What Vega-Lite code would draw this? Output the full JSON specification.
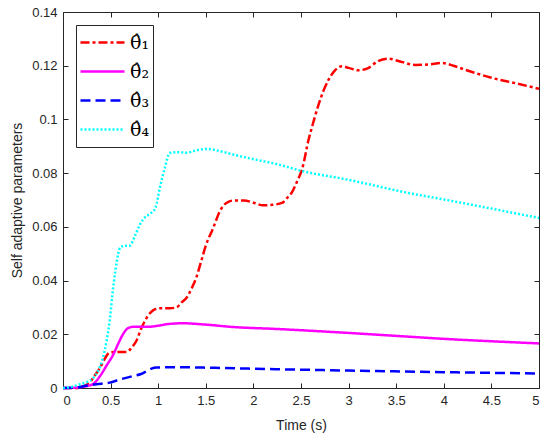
{
  "$schema": "https://vega.github.io/schema/vega-lite/v6.json",
  "width": 476,
  "height": 376,
  "autosize": {"type": "none"},
  "padding": {"left": 63, "top": 12, "right": 11, "bottom": 54},
  "background": "white",
  "datasets": {
    "curves": [
      {"t": 0, "v": 0, "s": "θ̂₁"}, {"t": 0.15, "v": 0, "s": "θ̂₁"}, {"t": 0.22, "v": 0.0008, "s": "θ̂₁"},
      {"t": 0.28, "v": 0.002, "s": "θ̂₁"}, {"t": 0.33, "v": 0.0045, "s": "θ̂₁"}, {"t": 0.39, "v": 0.0076, "s": "θ̂₁"},
      {"t": 0.44, "v": 0.011, "s": "θ̂₁"}, {"t": 0.49, "v": 0.0132, "s": "θ̂₁"}, {"t": 0.58, "v": 0.0134, "s": "θ̂₁"},
      {"t": 0.67, "v": 0.0134, "s": "θ̂₁"}, {"t": 0.72, "v": 0.015, "s": "θ̂₁"}, {"t": 0.77, "v": 0.0175, "s": "θ̂₁"},
      {"t": 0.82, "v": 0.022, "s": "θ̂₁"}, {"t": 0.88, "v": 0.0262, "s": "θ̂₁"}, {"t": 0.95, "v": 0.029, "s": "θ̂₁"},
      {"t": 1.02, "v": 0.0297, "s": "θ̂₁"}, {"t": 1.12, "v": 0.0297, "s": "θ̂₁"}, {"t": 1.19, "v": 0.03, "s": "θ̂₁"},
      {"t": 1.25, "v": 0.032, "s": "θ̂₁"}, {"t": 1.3, "v": 0.0337, "s": "θ̂₁"}, {"t": 1.35, "v": 0.037, "s": "θ̂₁"},
      {"t": 1.4, "v": 0.0411, "s": "θ̂₁"}, {"t": 1.45, "v": 0.047, "s": "θ̂₁"}, {"t": 1.5, "v": 0.053, "s": "θ̂₁"},
      {"t": 1.58, "v": 0.0598, "s": "θ̂₁"}, {"t": 1.65, "v": 0.066, "s": "θ̂₁"}, {"t": 1.72, "v": 0.069, "s": "θ̂₁"},
      {"t": 1.79, "v": 0.0698, "s": "θ̂₁"}, {"t": 1.9, "v": 0.0698, "s": "θ̂₁"}, {"t": 2.0, "v": 0.069, "s": "θ̂₁"},
      {"t": 2.1, "v": 0.068, "s": "θ̂₁"}, {"t": 2.2, "v": 0.0682, "s": "θ̂₁"}, {"t": 2.3, "v": 0.0689, "s": "θ̂₁"},
      {"t": 2.36, "v": 0.071, "s": "θ̂₁"}, {"t": 2.4, "v": 0.0726, "s": "θ̂₁"}, {"t": 2.46, "v": 0.077, "s": "θ̂₁"},
      {"t": 2.51, "v": 0.0813, "s": "θ̂₁"}, {"t": 2.58, "v": 0.0925, "s": "θ̂₁"}, {"t": 2.63, "v": 0.099, "s": "θ̂₁"},
      {"t": 2.68, "v": 0.105, "s": "θ̂₁"}, {"t": 2.74, "v": 0.111, "s": "θ̂₁"}, {"t": 2.79, "v": 0.1148, "s": "θ̂₁"},
      {"t": 2.85, "v": 0.118, "s": "θ̂₁"}, {"t": 2.93, "v": 0.1198, "s": "θ̂₁"}, {"t": 3.0, "v": 0.1192, "s": "θ̂₁"},
      {"t": 3.1, "v": 0.1183, "s": "θ̂₁"}, {"t": 3.2, "v": 0.119, "s": "θ̂₁"}, {"t": 3.3, "v": 0.1215, "s": "θ̂₁"},
      {"t": 3.42, "v": 0.1226, "s": "θ̂₁"}, {"t": 3.55, "v": 0.1215, "s": "θ̂₁"}, {"t": 3.7, "v": 0.1203, "s": "θ̂₁"},
      {"t": 3.85, "v": 0.1205, "s": "θ̂₁"}, {"t": 3.98, "v": 0.121, "s": "θ̂₁"}, {"t": 4.1, "v": 0.12, "s": "θ̂₁"},
      {"t": 4.2, "v": 0.1188, "s": "θ̂₁"}, {"t": 4.33, "v": 0.1173, "s": "θ̂₁"}, {"t": 4.5, "v": 0.1155, "s": "θ̂₁"},
      {"t": 4.75, "v": 0.1135, "s": "θ̂₁"}, {"t": 5.0, "v": 0.1114, "s": "θ̂₁"},

      {"t": 0, "v": 0, "s": "θ̂₂"}, {"t": 0.14, "v": 0.0002, "s": "θ̂₂"}, {"t": 0.25, "v": 0.0007, "s": "θ̂₂"},
      {"t": 0.32, "v": 0.0016, "s": "θ̂₂"}, {"t": 0.39, "v": 0.0045, "s": "θ̂₂"}, {"t": 0.46, "v": 0.0085, "s": "θ̂₂"},
      {"t": 0.53, "v": 0.0126, "s": "θ̂₂"}, {"t": 0.58, "v": 0.0165, "s": "θ̂₂"}, {"t": 0.63, "v": 0.02, "s": "θ̂₂"},
      {"t": 0.68, "v": 0.0222, "s": "θ̂₂"}, {"t": 0.74, "v": 0.0228, "s": "θ̂₂"}, {"t": 0.82, "v": 0.0228, "s": "θ̂₂"},
      {"t": 0.9, "v": 0.0228, "s": "θ̂₂"}, {"t": 1.0, "v": 0.0232, "s": "θ̂₂"}, {"t": 1.1, "v": 0.0238, "s": "θ̂₂"},
      {"t": 1.26, "v": 0.0241, "s": "θ̂₂"}, {"t": 1.5, "v": 0.0236, "s": "θ̂₂"}, {"t": 1.79, "v": 0.0227, "s": "θ̂₂"},
      {"t": 2.23, "v": 0.022, "s": "θ̂₂"}, {"t": 3.0, "v": 0.0205, "s": "θ̂₂"}, {"t": 3.5, "v": 0.0194, "s": "θ̂₂"},
      {"t": 4.0, "v": 0.0183, "s": "θ̂₂"}, {"t": 4.5, "v": 0.0174, "s": "θ̂₂"}, {"t": 5.0, "v": 0.0166, "s": "θ̂₂"},

      {"t": 0, "v": 0, "s": "θ̂₃"}, {"t": 0.15, "v": 0.0002, "s": "θ̂₃"}, {"t": 0.24, "v": 0.0008, "s": "θ̂₃"},
      {"t": 0.35, "v": 0.0014, "s": "θ̂₃"}, {"t": 0.49, "v": 0.002, "s": "θ̂₃"}, {"t": 0.6, "v": 0.0032, "s": "θ̂₃"},
      {"t": 0.74, "v": 0.0045, "s": "θ̂₃"}, {"t": 0.82, "v": 0.0052, "s": "θ̂₃"}, {"t": 0.88, "v": 0.0063, "s": "θ̂₃"},
      {"t": 0.93, "v": 0.0072, "s": "θ̂₃"}, {"t": 0.98, "v": 0.0076, "s": "θ̂₃"}, {"t": 1.1, "v": 0.0077, "s": "θ̂₃"},
      {"t": 1.26, "v": 0.0077, "s": "θ̂₃"}, {"t": 1.6, "v": 0.0075, "s": "θ̂₃"}, {"t": 2.23, "v": 0.007, "s": "θ̂₃"},
      {"t": 3.0, "v": 0.0065, "s": "θ̂₃"}, {"t": 4.0, "v": 0.0059, "s": "θ̂₃"}, {"t": 5.0, "v": 0.0054, "s": "θ̂₃"},

      {"t": 0, "v": 0, "s": "θ̂₄"}, {"t": 0.1, "v": 0.0005, "s": "θ̂₄"}, {"t": 0.18, "v": 0.0014, "s": "θ̂₄"},
      {"t": 0.25, "v": 0.0022, "s": "θ̂₄"}, {"t": 0.32, "v": 0.0038, "s": "θ̂₄"}, {"t": 0.37, "v": 0.0065, "s": "θ̂₄"},
      {"t": 0.42, "v": 0.0113, "s": "θ̂₄"}, {"t": 0.46, "v": 0.018, "s": "θ̂₄"}, {"t": 0.49, "v": 0.025, "s": "θ̂₄"},
      {"t": 0.52, "v": 0.035, "s": "θ̂₄"}, {"t": 0.55, "v": 0.0436, "s": "θ̂₄"}, {"t": 0.58, "v": 0.05, "s": "θ̂₄"},
      {"t": 0.6, "v": 0.0523, "s": "θ̂₄"}, {"t": 0.65, "v": 0.053, "s": "θ̂₄"}, {"t": 0.7, "v": 0.053, "s": "θ̂₄"},
      {"t": 0.76, "v": 0.057, "s": "θ̂₄"}, {"t": 0.81, "v": 0.061, "s": "θ̂₄"}, {"t": 0.86, "v": 0.0635, "s": "θ̂₄"},
      {"t": 0.92, "v": 0.065, "s": "θ̂₄"}, {"t": 0.97, "v": 0.067, "s": "θ̂₄"}, {"t": 1.02, "v": 0.075, "s": "θ̂₄"},
      {"t": 1.07, "v": 0.082, "s": "θ̂₄"}, {"t": 1.12, "v": 0.0875, "s": "θ̂₄"}, {"t": 1.2, "v": 0.0878, "s": "θ̂₄"},
      {"t": 1.3, "v": 0.0876, "s": "θ̂₄"}, {"t": 1.4, "v": 0.0885, "s": "θ̂₄"}, {"t": 1.51, "v": 0.089, "s": "θ̂₄"},
      {"t": 1.65, "v": 0.0882, "s": "θ̂₄"}, {"t": 1.79, "v": 0.0869, "s": "θ̂₄"}, {"t": 2.0, "v": 0.0852, "s": "θ̂₄"},
      {"t": 2.23, "v": 0.0835, "s": "θ̂₄"}, {"t": 2.51, "v": 0.0808, "s": "θ̂₄"}, {"t": 3.0, "v": 0.0775, "s": "θ̂₄"},
      {"t": 3.63, "v": 0.0726, "s": "θ̂₄"}, {"t": 4.0, "v": 0.0702, "s": "θ̂₄"}, {"t": 4.5, "v": 0.0668, "s": "θ̂₄"},
      {"t": 5.0, "v": 0.0633, "s": "θ̂₄"}
    ]
  },
  "data": {"name": "curves"},
  "layer": [
    {
      "mark": {"type": "line", "interpolate": "monotone", "strokeWidth": 2.5},
      "encoding": {
        "x": {
          "field": "t", "type": "quantitative",
          "scale": {"domain": [0, 5], "nice": false},
          "axis": {
            "title": "Time (s)", "values": [0, 0.5, 1, 1.5, 2, 2.5, 3, 3.5, 4, 4.5, 5],
            "format": ".1~f", "titlePadding": 11
          }
        },
        "y": {
          "field": "v", "type": "quantitative",
          "scale": {"domain": [0, 0.14], "nice": false},
          "axis": {
            "title": "Self adaptive parameters",
            "values": [0, 0.02, 0.04, 0.06, 0.08, 0.1, 0.12, 0.14],
            "format": ".2~f", "titlePadding": 7
          }
        },
        "color": {
          "field": "s", "type": "nominal",
          "scale": {"domain": ["θ̂₁", "θ̂₂", "θ̂₃", "θ̂₄"], "range": ["#ff0000", "#ff00ff", "#0000ff", "#00ffff"]},
          "legend": {
            "title": null, "orient": "none", "legendX": 13, "legendY": 13,
            "symbolType": "stroke", "symbolSize": 1936, "symbolStrokeWidth": 2.5,
            "clipHeight": 29, "labelFont": "DejaVu Serif",
            "labelFontSize": 19, "labelColor": "#000000", "labelOffset": 4,
            "fillColor": "white", "strokeColor": "#262626", "padding": 3, "rowPadding": 0
          }
        },
        "strokeDash": {
          "field": "s", "type": "nominal",
          "scale": {"domain": ["θ̂₁", "θ̂₂", "θ̂₃", "θ̂₄"], "range": [[9, 3, 3, 3], [1, 0], [10, 5], [2, 2]]},
          "legend": {
            "title": null, "orient": "none", "legendX": 13, "legendY": 13,
            "symbolType": "stroke", "symbolSize": 1936, "symbolStrokeWidth": 2.5,
            "clipHeight": 29, "labelFont": "DejaVu Serif",
            "labelFontSize": 19, "labelColor": "#000000", "labelOffset": 4,
            "fillColor": "white", "strokeColor": "#262626", "padding": 3, "rowPadding": 0
          }
        }
      }
    },
    {
      "mark": {"type": "line", "opacity": 0},
      "encoding": {
        "x": {
          "field": "t", "type": "quantitative",
          "scale": {"domain": [0, 5], "nice": false},
          "axis": {"orient": "top", "title": null, "labels": false, "values": [0, 0.5, 1, 1.5, 2, 2.5, 3, 3.5, 4, 4.5, 5]}
        },
        "y": {
          "field": "v", "type": "quantitative",
          "scale": {"domain": [0, 0.14], "nice": false},
          "axis": {"orient": "right", "title": null, "labels": false, "values": [0, 0.02, 0.04, 0.06, 0.08, 0.1, 0.12, 0.14]}
        },
        "detail": {"field": "s"}
      }
    }
  ],
  "resolve": {"scale": {"x": "independent", "y": "independent"}},
  "config": {
    "view": {"stroke": null},
    "axis": {
      "grid": false,
      "domainColor": "#262626",
      "domainWidth": 1,
      "tickColor": "#262626",
      "tickSize": -5,
      "labelPadding": 11,
      "labelFont": "Liberation Sans",
      "labelFontSize": 13,
      "labelColor": "#262626",
      "titleFont": "Liberation Sans",
      "titleFontSize": 14,
      "titleFontWeight": "normal",
      "titleColor": "#262626"
    }
  }
}
